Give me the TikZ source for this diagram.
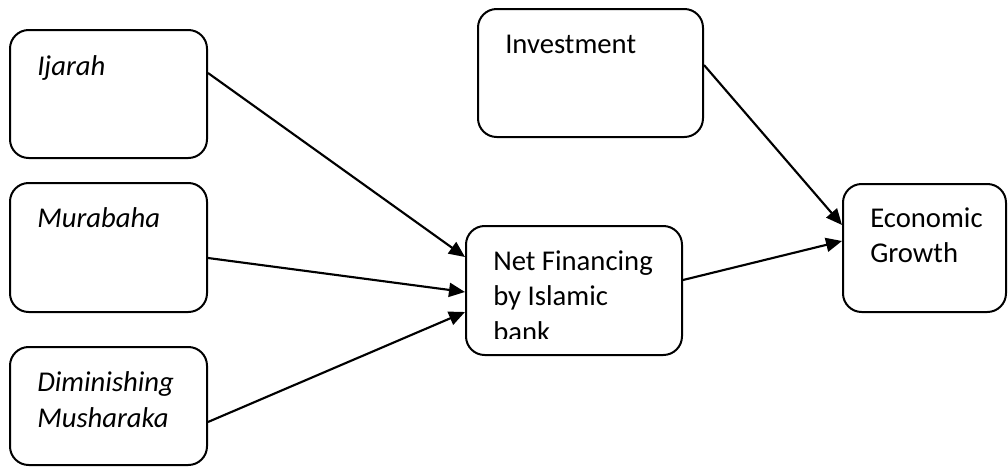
\documentclass[tikz,border=0pt]{standalone}
\usepackage{fontspec}
\setmainfont{Carlito}
\usetikzlibrary{arrows.meta}
\begin{document}
\begin{tikzpicture}[x=0.75pt,y=-0.75pt,
  box/.style={draw=black,line width=1.5pt,rounded corners=14pt,fill=white,inner sep=0pt},
  lbl/.style={anchor=base west,inner sep=0pt,font=\fontsize{21.5}{26}\selectfont},
  conn/.style={line width=1.6pt,-{Triangle[length=12pt,width=10.5pt]}}]
\useasboundingbox (0,0) rectangle (1008,475);
% boxes
\node[box,minimum width=197*0.75pt,minimum height=128*0.75pt] (ij) at (108.5,94) {};
\node[box,minimum width=197*0.75pt,minimum height=129*0.75pt] (mu) at (108.5,247.5) {};
\node[box,minimum width=197*0.75pt,minimum height=118*0.75pt] (di) at (108.5,406) {};
\node[box,minimum width=225*0.75pt,minimum height=128*0.75pt] (inv) at (590.5,73) {};
\node[box,minimum width=216*0.75pt,minimum height=129*0.75pt] (net) at (574,290.5) {};
\node[box,minimum width=163*0.75pt,minimum height=128*0.75pt] (eg) at (924.5,248) {};
% texts
\node[lbl] (tij) at (37,75) {\itshape Ijarah};
\node[lbl] (tmu) at (37,227) {\itshape Murabaha};
\node[lbl] (tdi1) at (37,391) {\itshape Diminishing};
\node[lbl] (tdi2) at (37,427) {\itshape Musharaka};
\node[lbl] (tinv) at (505,53) {Investment};
\node[lbl] (tnet1) at (493,270) {Net Financing};
\node[lbl] (tnet2) at (493,305) {by Islamic};
\begin{scope}
\clip (470,230) rectangle (680,338);
\node[lbl] (tnet3) at (493,341) {bank};
\end{scope}
\node[lbl] (teg1) at (870,227) {Economic};
\node[lbl] (teg2) at (870,262) {Growth};
% connectors
\draw[conn] ([yshift=21*0.75pt]ij.east) -- ([yshift=33.5*0.75pt]net.west);
\draw[conn] ([yshift=-10.5*0.75pt]mu.east) -- ([yshift=-1.5*0.75pt]net.west);
\draw[conn] ([yshift=-16*0.75pt]di.east) -- ([yshift=-21.5*0.75pt]net.west);
\draw[conn] ([yshift=8*0.75pt]inv.east) -- ([yshift=23*0.75pt]eg.west);
\draw[conn] ([yshift=10.5*0.75pt]net.east) -- ([yshift=7*0.75pt]eg.west);
\end{tikzpicture}
\end{document}
